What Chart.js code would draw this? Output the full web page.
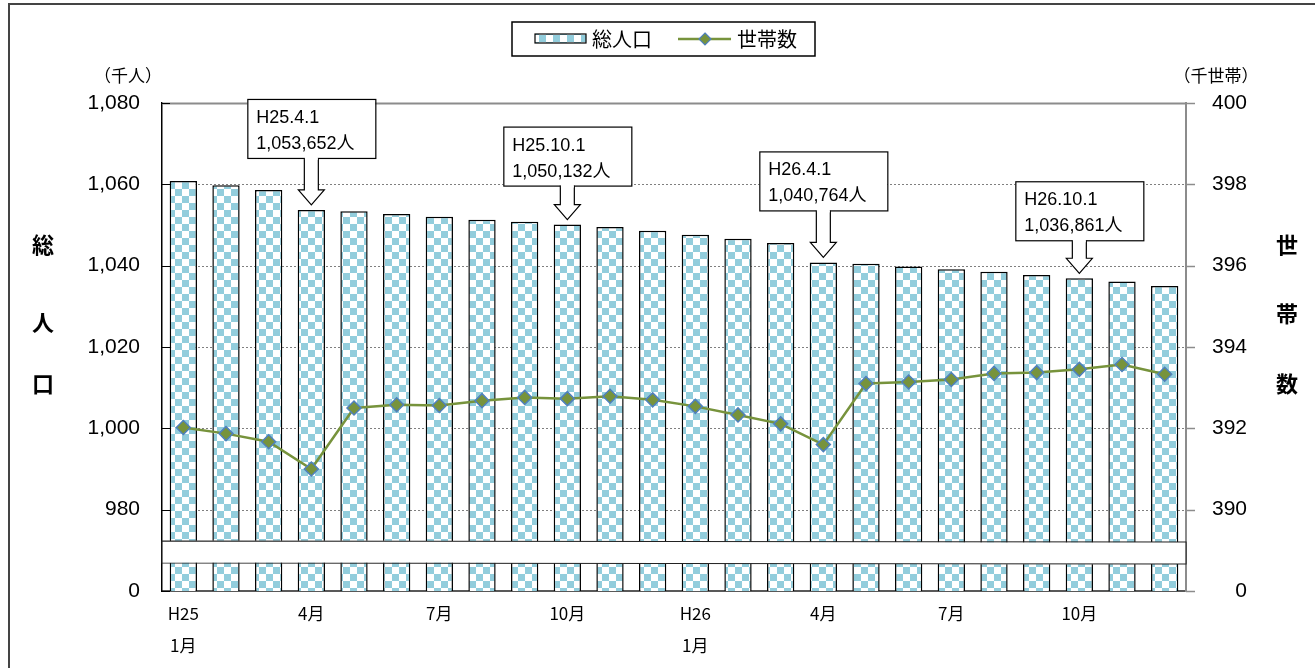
<!DOCTYPE html>
<html>
<head>
<meta charset="utf-8">
<script src="https://cdn.jsdelivr.net/npm/chart.js@4/dist/chart.umd.min.js"></script>
<style>
  html, body { margin: 0; padding: 0; background: #fff; }
  #wrap { position: relative; width: 1315px; height: 668px; }
</style>
</head>
<body>
<div id="wrap"><canvas id="chart"></canvas></div>
<script>
// ── Data ─────────────────────────────────────────────────────
const months = [
  "H25.1", "H25.2", "H25.3", "H25.4", "H25.5", "H25.6",
  "H25.7", "H25.8", "H25.9", "H25.10", "H25.11", "H25.12",
  "H26.1", "H26.2", "H26.3", "H26.4", "H26.5", "H26.6",
  "H26.7", "H26.8", "H26.9", "H26.10", "H26.11", "H26.12",
];
const monthTickLabels = [
  ["H25", "1月"], "", "", "4月", "", "", "7月", "", "", "10月", "", "",
  ["H26", "1月"], "", "", "4月", "", "", "7月", "", "", "10月", "", "",
];
// 総人口 (千人)
const population = [
  1060.8, 1059.8, 1058.6, 1053.7, 1053.4, 1052.7,
  1052.0, 1051.3, 1050.8, 1050.1, 1049.5, 1048.6,
  1047.6, 1046.6, 1045.6, 1040.8, 1040.5, 1039.8,
  1039.1, 1038.5, 1037.7, 1036.9, 1036.1, 1035.0,
];
// 世帯数 (千世帯)
const households = [
  392.02, 391.87, 391.67, 391.00, 392.50, 392.58,
  392.56, 392.68, 392.76, 392.73, 392.79, 392.70,
  392.54, 392.33, 392.11, 391.60, 393.10, 393.14,
  393.20, 393.35, 393.37, 393.45, 393.57, 393.33,
];
// axis ticks (bottom value is the broken-axis "0")
const popTicks       = [960, 980, 1000, 1020, 1040, 1060, 1080];
const popTickLabels  = ["0", "980", "1,000", "1,020", "1,040", "1,060", "1,080"];
const hhTicks        = [388, 390, 392, 394, 396, 398, 400];
const hhTickLabels   = ["0", "390", "392", "394", "396", "398", "400"];
// callouts
const calloutIndex = [3, 9, 15, 21];
const calloutDate  = ["H25.4.1", "H25.10.1", "H26.4.1", "H26.10.1"];
const calloutValue = ["1,053,652人", "1,050,132人", "1,040,764人", "1,036,861人"];

const LAT = "'Liberation Sans', 'Noto Sans CJK JP', sans-serif";
const JP  = "'Noto Sans CJK JP', 'Liberation Sans', sans-serif";
const BLUE_SQ = "#92CDDC";
const OLIVE   = "#77933C";

function makePattern(ctx) {
  const t = document.createElement("canvas");
  t.width = 14; t.height = 14;
  const g = t.getContext("2d");
  g.fillStyle = "#fff"; g.fillRect(0, 0, 14, 14);
  g.fillStyle = BLUE_SQ;
  g.fillRect(0, 0, 7, 7); g.fillRect(7, 7, 7, 7);
  return ctx.createPattern(t, "repeat");
}

const canvas = document.getElementById("chart");
const pattern = makePattern(canvas.getContext("2d"));

// ── Decorations: grid, axis break, callouts, legend, titles ──
const decor = {
  id: "decor",
  beforeDatasetsDraw(chart) {
    const { ctx, chartArea: a } = chart;
    const y = chart.scales.y;
    ctx.save();
    popTicks.forEach((v) => {
      if (v === popTicks[0]) return;
      const py = Math.round(y.getPixelForValue(v)) + 0.5;
      ctx.beginPath();
      if (v === popTicks[popTicks.length - 1]) {
        ctx.strokeStyle = "#8c8c8c"; ctx.lineWidth = 2; ctx.setLineDash([]);
      } else {
        ctx.strokeStyle = "#7f7f7f"; ctx.lineWidth = 1; ctx.setLineDash([2, 2]);
      }
      ctx.moveTo(a.left, py); ctx.lineTo(a.right, py);
      ctx.stroke();
    });
    ctx.restore();
  },
  afterDatasetsDraw(chart) {
    const { ctx, chartArea: a } = chart;
    // axis break band
    const t = a.bottom - 50, b = a.bottom - 28;
    ctx.save();
    ctx.beginPath();
    ctx.moveTo(a.left, t);
    ctx.bezierCurveTo(a.left + 300, t - 1, a.left + 650, t + 2, a.right, t + 1);
    ctx.lineTo(a.right, b + 1);
    ctx.bezierCurveTo(a.left + 650, b + 2, a.left + 300, b - 1, a.left, b);
    ctx.closePath();
    ctx.fillStyle = "#fff"; ctx.fill();
    ctx.strokeStyle = "#222"; ctx.lineWidth = 1.2; ctx.stroke();
    ctx.restore();
  },
  afterDraw(chart) {
    const { ctx, chartArea: a } = chart;
    const y = chart.scales.y, y2 = chart.scales.y2, x = chart.scales.x;
    ctx.save();

    // tick marks
    ctx.setLineDash([]);
    popTicks.forEach((v) => {
      const py = Math.round(y.getPixelForValue(v)) + 0.5;
      ctx.strokeStyle = "#000"; ctx.lineWidth = 1;
      ctx.beginPath(); ctx.moveTo(a.left, py); ctx.lineTo(a.left + 8, py); ctx.stroke();
    });
    hhTicks.forEach((v) => {
      const py = Math.round(y2.getPixelForValue(v)) + 0.5;
      ctx.strokeStyle = "#8c8c8c"; ctx.lineWidth = 1.5;
      ctx.beginPath(); ctx.moveTo(a.right, py); ctx.lineTo(a.right + 9, py); ctx.stroke();
    });

    // callouts
    const arrowLen = [47, 34, 47, 33];
    calloutIndex.forEach((idx, k) => {
      const cx = x.getPixelForValue(idx);
      const tip = y.getPixelForValue(population[idx]) - 5;
      const boxB = tip - arrowLen[k];
      const boxT = boxB - 59;
      const boxL = cx - 64;
      ctx.fillStyle = "#fff"; ctx.strokeStyle = "#000"; ctx.lineWidth = 1.2;
      ctx.fillRect(boxL, boxT, 128, 59);
      ctx.strokeRect(boxL + 0.5, boxT + 0.5, 128, 59);
      // block arrow
      const headY = tip - 15;
      ctx.beginPath();
      ctx.moveTo(cx - 7, boxB); ctx.lineTo(cx - 7, headY); ctx.lineTo(cx - 13, headY);
      ctx.lineTo(cx, tip); ctx.lineTo(cx + 13, headY); ctx.lineTo(cx + 7, headY);
      ctx.lineTo(cx + 7, boxB);
      ctx.fill(); ctx.stroke();
      ctx.fillStyle = "#fff"; ctx.fillRect(cx - 6.4, boxB - 1, 12.8, 3);
      ctx.fillStyle = "#000"; ctx.font = "18px " + LAT;
      ctx.textAlign = "left"; ctx.textBaseline = "middle";
      ctx.fillText(calloutDate[k], boxL + 9, boxT + 19);
      ctx.fillText(calloutValue[k], boxL + 9, boxT + 45);
    });

    // legend
    ctx.lineWidth = 1.5; ctx.strokeStyle = "#000";
    ctx.strokeRect(512, 22, 303, 34);
    ctx.fillStyle = pattern; ctx.fillRect(535, 34, 51, 9);
    ctx.lineWidth = 1.2; ctx.strokeRect(535, 34, 51, 9);
    ctx.fillStyle = "#000"; ctx.font = "20px " + JP;
    ctx.textAlign = "left"; ctx.textBaseline = "middle";
    ctx.fillText("総人口", 592, 39);
    ctx.strokeStyle = OLIVE; ctx.lineWidth = 2.5;
    ctx.beginPath(); ctx.moveTo(678, 39); ctx.lineTo(731, 39); ctx.stroke();
    ctx.beginPath();
    ctx.moveTo(705, 33); ctx.lineTo(711, 39); ctx.lineTo(705, 45); ctx.lineTo(699, 39); ctx.closePath();
    ctx.fillStyle = OLIVE; ctx.fill();
    ctx.strokeStyle = "#4F81BD"; ctx.lineWidth = 1.2; ctx.stroke();
    ctx.fillStyle = "#000"; ctx.fillText("世帯数", 737, 39);

    // units
    ctx.font = "17px " + JP; ctx.textAlign = "center";
    ctx.fillText("（千人）", 128, 76);
    ctx.fillText("（千世帯）", 1216, 76);

    // axis titles
    ctx.font = "bold 22px " + JP;
    [["総", 245], ["人", 323], ["口", 384]].forEach(([s, py]) => ctx.fillText(s, 43, py));
    [["世", 245], ["帯", 314], ["数", 384]].forEach(([s, py]) => ctx.fillText(s, 1287, py));

    // outer frame
    ctx.strokeStyle = "#444"; ctx.lineWidth = 2;
    ctx.strokeRect(9, 4, 1320, 680);
    ctx.restore();
  },
};

new Chart(canvas, {
  type: "bar",
  data: {
    labels: months,
    datasets: [
      {
        type: "line",
        label: "世帯数",
        data: households,
        yAxisID: "y2",
        borderColor: OLIVE,
        borderWidth: 2.5,
        pointStyle: "rectRot",
        pointRadius: 7,
        pointBackgroundColor: OLIVE,
        pointBorderColor: "#4F81BD",
        pointBorderWidth: 1.5,
        tension: 0,
        order: 0,
      },
      {
        label: "総人口",
        data: population,
        yAxisID: "y",
        backgroundColor: pattern,
        borderColor: "#000",
        borderWidth: 1.5,
        categoryPercentage: 1,
        barPercentage: 0.64,
        order: 1,
      },
    ],
  },
  options: {
    responsive: true,
    maintainAspectRatio: false,
    animation: false,
    layout: { padding: { top: 103, left: 0, right: 68, bottom: 0 } },
    plugins: { legend: { display: false }, tooltip: { enabled: false } },
    scales: {
      x: {
        grid: { display: false, drawTicks: false },
        border: { color: "#595959", width: 2 },
        ticks: {
          autoSkip: false, maxRotation: 0, padding: 6,
          color: "#000",
          font: { size: 17, family: JP, lineHeight: 1.9 },
          callback: (v, i) => monthTickLabels[i],
        },
        afterFit: (s) => { s.height = 77; },
      },
      y: {
        position: "left",
        min: popTicks[0], max: popTicks[popTicks.length - 1],
        afterBuildTicks: (s) => { s.ticks = popTicks.map((v) => ({ value: v })); },
        grid: { display: false, drawTicks: false },
        border: { color: "#000", width: 1.5 },
        ticks: {
          padding: 22, color: "#000",
          font: { size: 21, family: LAT },
          callback: (v) => popTickLabels[popTicks.indexOf(v)],
        },
        afterFit: (s) => { s.width = 162; },
      },
      y2: {
        position: "right",
        min: hhTicks[0], max: hhTicks[hhTicks.length - 1],
        afterBuildTicks: (s) => { s.ticks = hhTicks.map((v) => ({ value: v })); },
        grid: { display: false, drawTicks: false },
        border: { color: "#8c8c8c", width: 2 },
        ticks: {
          padding: 22, color: "#000", crossAlign: "far",
          font: { size: 21, family: LAT },
          callback: (v) => hhTickLabels[hhTicks.indexOf(v)],
        },
        afterFit: (s) => { s.width = 61; },
      },
    },
  },
  plugins: [decor],
});
</script>
</body>
</html>
